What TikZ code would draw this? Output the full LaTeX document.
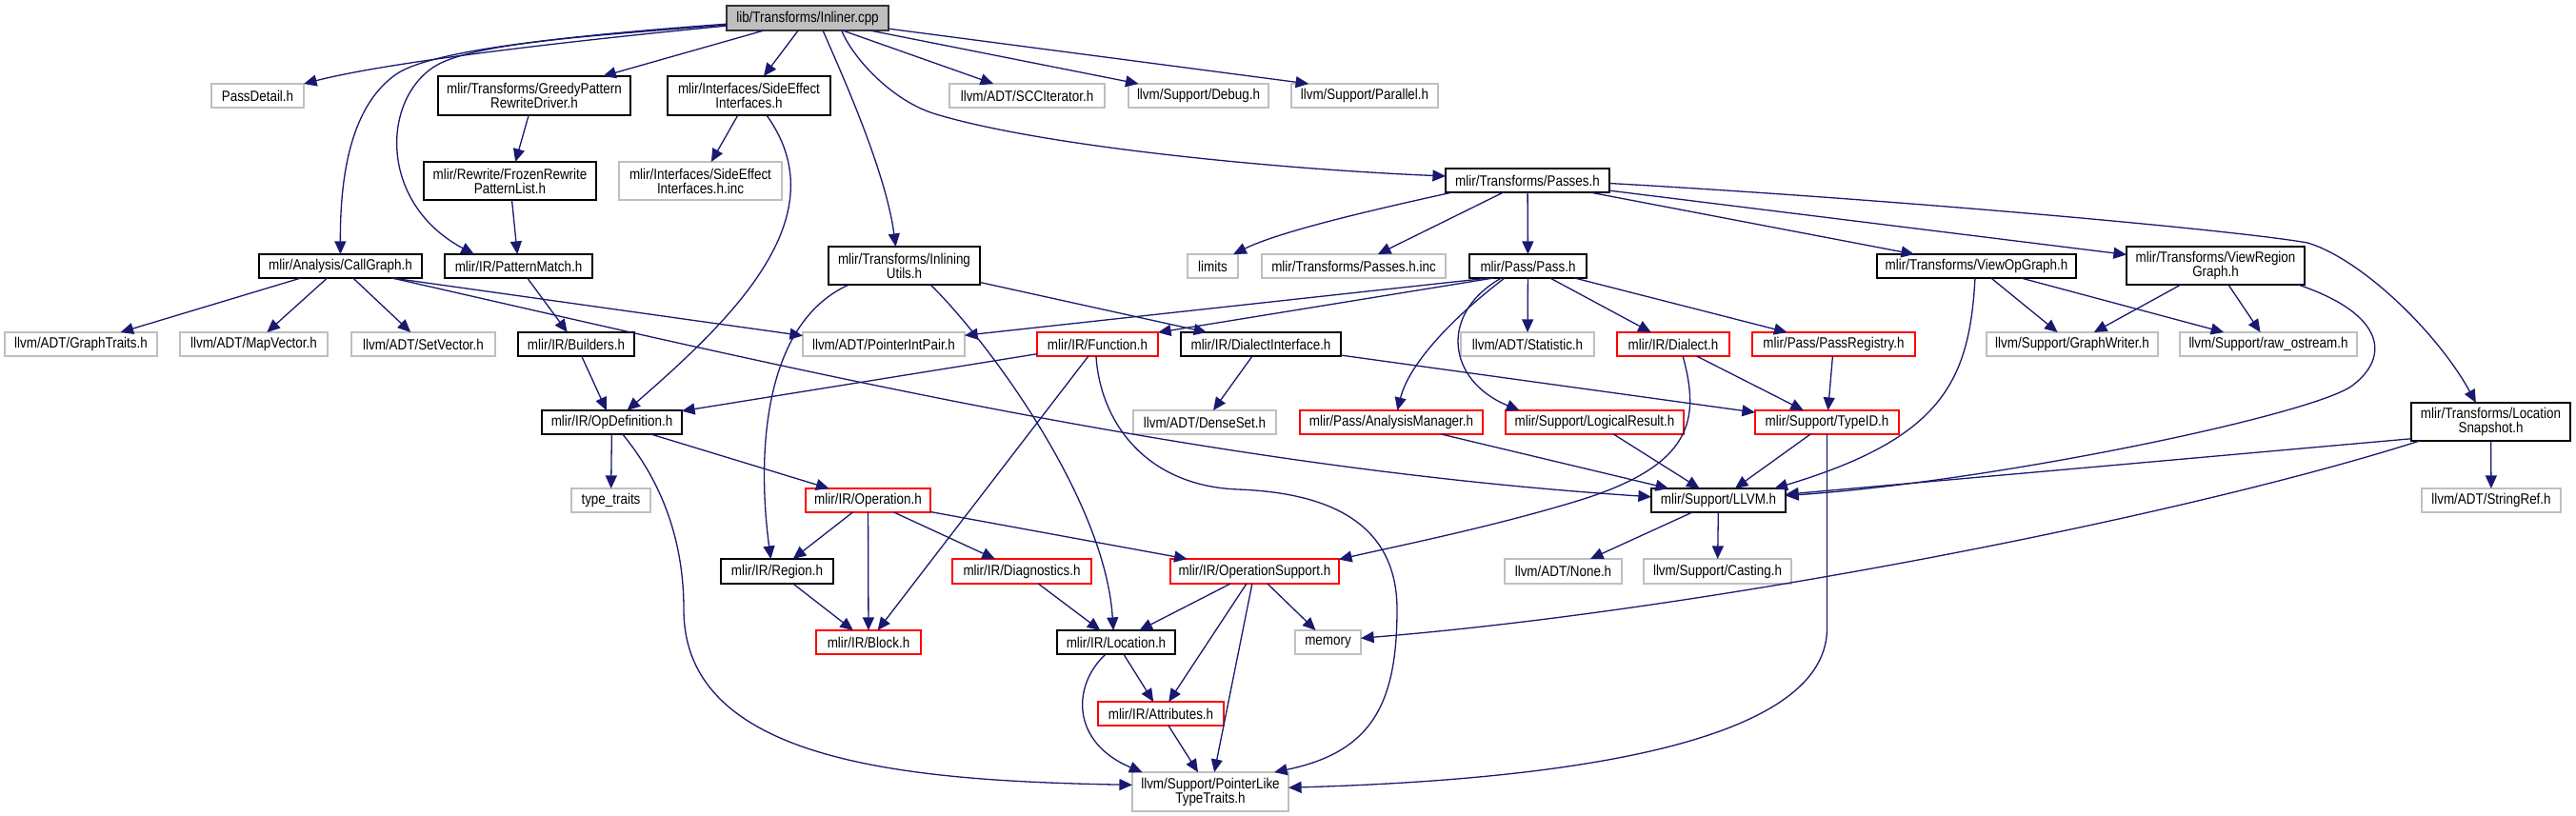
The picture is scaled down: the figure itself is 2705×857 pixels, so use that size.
\documentclass[tikz,border=0pt]{standalone}
\usepackage{fontspec}
\setmainfont{Liberation Sans}[FakeStretch=0.86]
\usetikzlibrary{arrows.meta}
\definecolor{edgec}{HTML}{191970}
\definecolor{grayb}{HTML}{BFBFBF}
\begin{document}
\begin{tikzpicture}[x=0.5pt,y=-0.5pt,
  box/.style={rectangle, inner sep=0pt, outer sep=0pt, line width=0.85pt, align=center, font=\fontsize{7.8pt}{7.5pt}\selectfont},
  gb/.style={box, draw=grayb},
  bb/.style={box, draw=black},
  rb/.style={box, draw=red},
  rootbox/.style={box, draw=black!80, fill=grayb},
  wh/.style 2 args={minimum width=0.5pt*#1, minimum height=0.5pt*#2},
  edge/.style={draw=edgec, line width=0.65pt, -{Triangle[length=6.8pt,width=6pt]}}]
\useasboundingbox (0,0) rectangle (2705,857);
\fill[white] (0,0) rectangle (2705,857);

\node[rootbox, wh={170}{26}] (root) at (848,19) {lib/Transforms/Inliner.cpp};
\node[gb, wh={97}{25}] (passdetail) at (270.5,100.5) {PassDetail.h};
\node[bb, wh={202}{41}] (greedy) at (561,100.5) {mlir/Transforms/GreedyPattern\\RewriteDriver.h};
\node[bb, wh={171}{41}] (sideeff) at (786.5,100.5) {mlir/Interfaces/SideEffect\\Interfaces.h};
\node[gb, wh={163}{25}] (scc) at (1078.5,100.5) {llvm/ADT/SCCIterator.h};
\node[gb, wh={147}{25}] (debug) at (1258.5,100.5) {llvm/Support/Debug.h};
\node[gb, wh={154}{25}] (parallel) at (1433,100.5) {llvm/Support/Parallel.h};
\node[bb, wh={181}{40}] (frozen) at (535.5,190) {mlir/Rewrite/FrozenRewrite\\PatternList.h};
\node[gb, wh={171}{40}] (sideinc) at (735.5,190) {mlir/Interfaces/SideEffect\\Interfaces.h.inc};
\node[bb, wh={172}{25}] (passes) at (1604,189.5) {mlir/Transforms/Passes.h};
\node[bb, wh={171}{25}] (callgraph) at (357.5,279.5) {mlir/Analysis/CallGraph.h};
\node[bb, wh={155}{25}] (patmatch) at (544.5,279.5) {mlir/IR/PatternMatch.h};
\node[bb, wh={159}{40}] (inlutils) at (949.5,279) {mlir/Transforms/Inlining\\Utils.h};
\node[gb, wh={53}{25}] (limits) at (1273.5,279.5) {limits};
\node[gb, wh={193}{25}] (passesinc) at (1421.5,279.5) {mlir/Transforms/Passes.h.inc};
\node[bb, wh={123}{25}] (pass) at (1604.5,279.5) {mlir/Pass/Pass.h};
\node[bb, wh={209}{25}] (viewop) at (2075.5,279.5) {mlir/Transforms/ViewOpGraph.h};
\node[bb, wh={187}{40}] (viewreg) at (2326.5,279) {mlir/Transforms/ViewRegion\\Graph.h};
\node[gb, wh={160}{25}] (graphtraits) at (85,361.5) {llvm/ADT/GraphTraits.h};
\node[gb, wh={155}{25}] (mapvec) at (266.5,361.5) {llvm/ADT/MapVector.h};
\node[gb, wh={151}{25}] (setvec) at (444.5,361.5) {llvm/ADT/SetVector.h};
\node[bb, wh={122}{25}] (builders) at (605,361.5) {mlir/IR/Builders.h};
\node[gb, wh={170}{25}] (ptrint) at (928,361.5) {llvm/ADT/PointerIntPair.h};
\node[rb, wh={127}{25}] (function) at (1152.5,361.5) {mlir/IR/Function.h};
\node[bb, wh={168}{25}] (dialint) at (1324,361.5) {mlir/IR/DialectInterface.h};
\node[gb, wh={140}{25}] (statistic) at (1604,361.5) {llvm/ADT/Statistic.h};
\node[rb, wh={118}{25}] (dialect) at (1757,361.5) {mlir/IR/Dialect.h};
\node[rb, wh={171}{25}] (passreg) at (1925.5,361.5) {mlir/Pass/PassRegistry.h};
\node[gb, wh={180}{25}] (graphwriter) at (2176,361.5) {llvm/Support/GraphWriter.h};
\node[gb, wh={186}{25}] (rawos) at (2382,361.5) {llvm/Support/raw\_ostream.h};
\node[bb, wh={147}{25}] (opdef) at (642.5,443.5) {mlir/IR/OpDefinition.h};
\node[gb, wh={150}{25}] (denseset) at (1265,443.5) {llvm/ADT/DenseSet.h};
\node[rb, wh={192}{25}] (analysis) at (1461,443.5) {mlir/Pass/AnalysisManager.h};
\node[rb, wh={187}{25}] (logical) at (1674.5,443.5) {mlir/Support/LogicalResult.h};
\node[rb, wh={151}{25}] (typeid) at (1918.5,443.5) {mlir/Support/TypeID.h};
\node[bb, wh={167}{40}] (locsnap) at (2615.5,443) {mlir/Transforms/Location\\Snapshot.h};
\node[gb, wh={83}{25}] (typetraits) at (641.5,525.5) {type\_traits};
\node[rb, wh={131}{25}] (operation) at (911.5,525.5) {mlir/IR/Operation.h};
\node[bb, wh={141}{25}] (llvm) at (1804.5,525.5) {mlir/Support/LLVM.h};
\node[gb, wh={146}{25}] (stringref) at (2616,525.5) {llvm/ADT/StringRef.h};
\node[bb, wh={118}{26}] (region) at (816,600) {mlir/IR/Region.h};
\node[rb, wh={146}{26}] (diag) at (1073,600) {mlir/IR/Diagnostics.h};
\node[rb, wh={177}{26}] (opsupport) at (1317.5,600) {mlir/IR/OperationSupport.h};
\node[gb, wh={123}{26}] (none) at (1641.5,600) {llvm/ADT/None.h};
\node[gb, wh={155}{26}] (casting) at (1803.5,600) {llvm/Support/Casting.h};
\node[rb, wh={110}{25}] (block) at (912,674.5) {mlir/IR/Block.h};
\node[bb, wh={124}{25}] (location) at (1172,674.5) {mlir/IR/Location.h};
\node[gb, wh={69}{25}] (memory) at (1394.5,674.5) {memory};
\node[rb, wh={132}{25}] (attributes) at (1219,749.5) {mlir/IR/Attributes.h};
\node[gb, wh={164}{41}] (ptrlike) at (1271,831.5) {llvm/Support/PointerLike\\TypeTraits.h};

\draw[edge] (root) .. controls (650,38) and (420,62) .. (passdetail);
\draw[edge] (root) .. controls (560,40) and (448,56) .. (416,78) .. controls (370,110) and (357,180) .. (callgraph);
\draw[edge] (root) .. controls (620,38) and (490,45) .. (453,72) .. controls (400,110) and (400,215) .. (patmatch.165);
\draw[edge] (root) -- (greedy);
\draw[edge] (root) -- (sideeff);
\draw[edge] (root.-39) .. controls (885,80) and (930,180) .. (inlutils.114);
\draw[edge] (root.-20) .. controls (895,60) and (936,106) .. (983,120) .. controls (1100,155) and (1350,178) .. (passes.177);
\draw[edge] (root) -- (scc);
\draw[edge] (root) -- (debug);
\draw[edge] (root) -- (parallel.168);
\draw[edge] (greedy) -- (frozen);
\draw[edge] (frozen) -- (patmatch);
\draw[edge] (sideeff) -- (sideinc);
\draw[edge] (sideeff.-48) .. controls (880,225) and (775,330) .. (opdef.38);
\draw[edge] (callgraph) -- (graphtraits);
\draw[edge] (callgraph) -- (mapvec);
\draw[edge] (callgraph) -- (setvec);
\draw[edge] (callgraph.-13) -- (ptrint.174);
\draw[edge] (callgraph.-13) .. controls (800,380) and (1250,490) .. (llvm.177);
\draw[edge] (patmatch) -- (builders);
\draw[edge] (builders) -- (opdef);
\draw[edge] (inlutils.199) .. controls (800,340) and (795,480) .. (region.117);
\draw[edge] (inlutils) -- (dialint);
\draw[edge] (inlutils.-36) .. controls (1030,350) and (1160,520) .. (location.103);
\draw[edge] (passes.189) .. controls (1420,225) and (1340,245) .. (limits.30);
\draw[edge] (passes) -- (passesinc);
\draw[edge] (passes) -- (pass);
\draw[edge] (passes) -- (viewop);
\draw[edge] (passes) -- (viewreg);
\draw[edge] (passes.-2) .. controls (2000,210) and (2350,242) .. (2423,255) .. controls (2480,272) and (2560,350) .. (locsnap.128);
\draw[edge] (pass.197) -- (ptrint);
\draw[edge] (pass.199) -- (function.11);
\draw[edge] (pass) -- (statistic);
\draw[edge] (pass) -- (dialect);
\draw[edge] (pass) -- (passreg);
\draw[edge] (pass.207) .. controls (1530,330) and (1480,380) .. (analysis.63);
\draw[edge] (pass.204) .. controls (1510,330) and (1520,400) .. (logical.171);
\draw[edge] (viewop.-97) .. controls (2068,400) and (2040,460) .. (llvm.12);
\draw[edge] (viewop) -- (graphwriter);
\draw[edge] (viewop) -- (rawos);
\draw[edge] (viewreg) -- (graphwriter);
\draw[edge] (viewreg) -- (rawos);
\draw[edge] (viewreg.-13) .. controls (2505,330) and (2510,375) .. (2470,405) .. controls (2430,435) and (2100,505) .. (llvm.4);
\draw[edge] (function) -- (opdef);
\draw[edge] (function) -- (block);
\draw[edge] (function.-97) .. controls (1155,440) and (1200,510) .. (1300,514) .. controls (1380,517) and (1467,540) .. (1467,640) .. controls (1467,740) and (1440,790) .. (ptrlike.17);
\draw[edge] (dialint) -- (denseset);
\draw[edge] (dialint) -- (typeid);
\draw[edge] (dialect) -- (typeid);
\draw[edge] (dialect.-51) .. controls (1785,440) and (1780,490) .. (1650,528) .. controls (1560,555) and (1460,575) .. (opsupport.8);
\draw[edge] (passreg) -- (typeid);
\draw[edge] (opdef) -- (typetraits);
\draw[edge] (opdef) -- (operation);
\draw[edge] (opdef.-48) .. controls (690,500) and (718,560) .. (718,640) .. controls (718,800) and (950,820) .. (ptrlike.175);
\draw[edge] (analysis) -- (llvm);
\draw[edge] (logical) -- (llvm);
\draw[edge] (typeid) -- (llvm);
\draw[edge] (typeid.south) -- (1918.5,660) .. controls (1918.5,790) and (1600,820) .. (ptrlike.3);
\draw[edge] (locsnap.192) -- (llvm);
\draw[edge] (locsnap.195) .. controls (2300,540) and (1800,640) .. (memory.7);
\draw[edge] (locsnap) -- (stringref);
\draw[edge] (operation) -- (region);
\draw[edge] (operation) -- (block);
\draw[edge] (operation) -- (diag);
\draw[edge] (operation) -- (opsupport);
\draw[edge] (llvm) -- (none);
\draw[edge] (llvm) -- (casting);
\draw[edge] (region) -- (block);
\draw[edge] (diag) -- (location);
\draw[edge] (opsupport) -- (location);
\draw[edge] (opsupport) -- (attributes);
\draw[edge] (opsupport) -- (ptrlike);
\draw[edge] (opsupport) -- (memory);
\draw[edge] (location) -- (attributes);
\draw[edge] (location.229) .. controls (1125,720) and (1125,780) .. (ptrlike.164);
\draw[edge] (attributes) -- (ptrlike);
\end{tikzpicture}
\end{document}
